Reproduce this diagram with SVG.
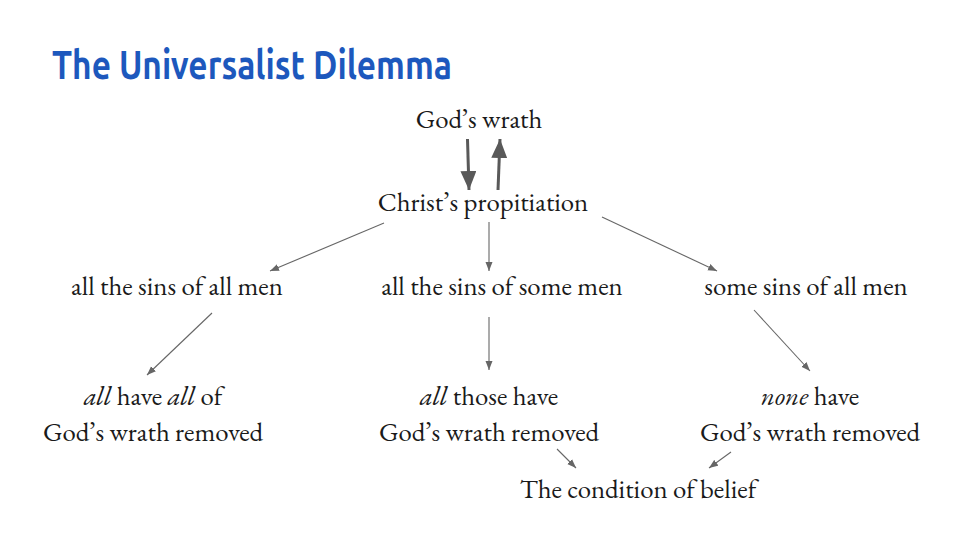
<svg xmlns="http://www.w3.org/2000/svg" width="960" height="540" viewBox="0 0 960 540">
<defs>
<style>
.t{font-family:"EB Garamond","Liberation Serif","Times New Roman",serif;font-size:26.8px;fill:#1a1a1a;text-anchor:middle}
.i{font-style:italic}
.title{font-family:"Ubuntu","Open Sans","Liberation Sans",sans-serif;font-weight:700;font-size:40px;fill:#1d58bd}
.thin{stroke:#666;stroke-width:1.1;fill:none;marker-end:url(#ah)}
.thick{stroke:#595959;stroke-width:3;fill:none;marker-end:url(#AH)}
</style>
<marker id="ah" markerUnits="userSpaceOnUse" markerWidth="10" markerHeight="8" refX="9" refY="4" orient="auto">
<path d="M0,0.5 L9,4 L0,7.5 Z" fill="#666"/>
</marker>
<marker id="AH" markerUnits="userSpaceOnUse" markerWidth="20" markerHeight="16" refX="19" refY="8" orient="auto">
<path d="M0,0 L19,8 L0,16 Z" fill="#595959"/>
</marker>
</defs>
<rect width="960" height="540" fill="#fff"/>
<text class="title" x="52" y="79" textLength="400" lengthAdjust="spacingAndGlyphs">The Universalist Dilemma</text>

<g id="connectors">
<line class="thick" x1="467.5" y1="139" x2="469" y2="190"/>
<line class="thick" x1="498" y1="190" x2="500" y2="139"/>
<line class="thin" x1="384" y1="223" x2="270" y2="271"/>
<line class="thin" x1="489" y1="222" x2="489" y2="271"/>
<line class="thin" x1="602" y1="217" x2="717" y2="271"/>
<line class="thin" x1="212" y1="313" x2="147" y2="375"/>
<line class="thin" x1="489" y1="317" x2="489" y2="370"/>
<line class="thin" x1="754" y1="310" x2="810" y2="371"/>
<line class="thin" x1="557" y1="449" x2="576" y2="468"/>
<line class="thin" x1="731" y1="452" x2="709" y2="468"/>
</g>

<g id="gods-wrath"><text class="t" x="479" y="128">God’s wrath</text></g>
<g id="propitiation"><text class="t" x="483" y="211">Christ’s propitiation</text></g>
<g id="all-sins-all-men"><text class="t" x="177" y="295">all the sins of all men</text></g>
<g id="all-sins-some-men"><text class="t" x="502" y="295">all the sins of some men</text></g>
<g id="some-sins-all-men"><text class="t" x="806" y="295">some sins of all men</text></g>
<g id="result-left">
<text class="t" x="153" y="405"><tspan class="i">all</tspan> have <tspan class="i">all</tspan> of</text>
<text class="t" x="153" y="441">God’s wrath removed</text>
</g>
<g id="result-middle">
<text class="t" x="489" y="405"><tspan class="i">all</tspan> those have</text>
<text class="t" x="489" y="441">God’s wrath removed</text>
</g>
<g id="result-right">
<text class="t" x="810" y="405"><tspan class="i">none</tspan> have</text>
<text class="t" x="810" y="441">God’s wrath removed</text>
</g>
<g id="condition"><text class="t" x="638" y="498">The condition of belief</text></g>
</svg>
